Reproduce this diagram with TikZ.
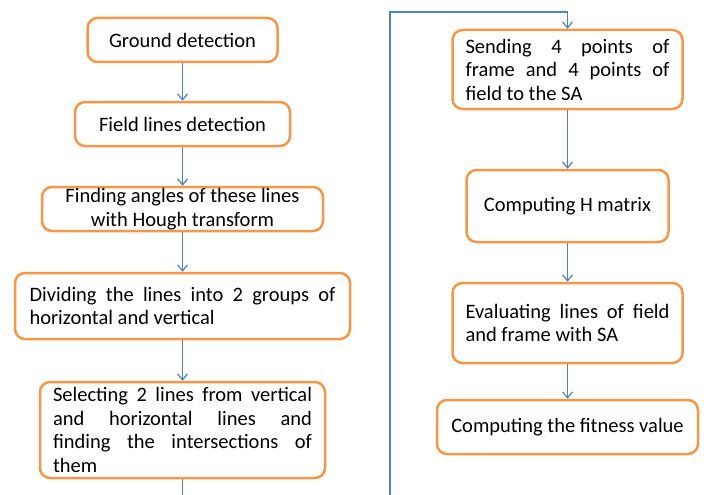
\documentclass[tikz,border=0pt]{standalone}
\usepackage{fontspec}
\setmainfont{Carlito}
\usetikzlibrary{arrows.meta}
\definecolor{boxorange}{RGB}{247,150,70}
\definecolor{flowblue}{RGB}{79,129,189}

\begin{document}
\begin{tikzpicture}[x=1pt,y=-1pt,
	box/.style={draw=boxorange, line width=2.5pt, rounded corners=10pt, fill=white, inner sep=0pt, font=\fontsize{20.5}{23.5}\selectfont},
	flow/.style={draw=flowblue, line width=1.2pt, -{Straight Barb[length=6pt,width=10pt]}}]
		\useasboundingbox (0,0) rectangle (704,495);
		\clip (0,0) rectangle (704,495);
		
		\node[box, minimum width=190pt, minimum height=44pt] (ground) at (182.5,40) {Ground detection};
		\node[box, minimum width=215pt, minimum height=44pt] (field) at (182.5,124) {Field lines detection};
		\node[box, minimum width=281pt, minimum height=44pt, align=center] (hough) at (182.5,209) {Finding angles of these lines\\with Hough transform};
		\node[box, text width=306pt, inner xsep=14.5pt, minimum height=66pt, align=justify] (divide) at (182.5,306) {Dividing the lines into 2 groups of\linebreak horizontal and vertical};
		\node[box, text width=259pt, inner xsep=13pt, minimum height=96pt, align=justify] (select) at (182.5,430) {Selecting 2 lines from vertical\linebreak and horizontal lines and\linebreak finding the intersections of\linebreak them};
		
		\node[box, text width=204pt, inner xsep=13pt, minimum height=79pt, align=justify] (send) at (567.5,69.5) {Sending 4 points of\linebreak frame and 4 points of\linebreak field to the SA};
		\node[box, minimum width=202pt, minimum height=72pt] (hmat) at (567.5,206) {Computing H matrix};
		\node[box, text width=204pt, inner xsep=13pt, minimum height=80pt, align=justify] (evaluate) at (567.5,323) {Evaluating lines of field\linebreak and frame with SA};
		\node[box, minimum width=261pt, minimum height=54pt] (fitness) at (567.5,427) {Computing the fitness value};
		
		\draw[flow] (ground) -- (field);
		\draw[flow] (field) -- (hough);
		\draw[flow] (hough) -- (divide);
		\draw[flow] (divide) -- (select);
		
		\coordinate (loopbot) at (390,505);
		\coordinate (looptop) at (390,12);
		\draw[flow] (select.south) |- (loopbot) -- (looptop) -| (send.north);
		
		\draw[flow] (send) -- (hmat);
		\draw[flow] (hmat) -- (evaluate);
		\draw[flow] (evaluate) -- (fitness);
	\end{tikzpicture}
\end{document}
